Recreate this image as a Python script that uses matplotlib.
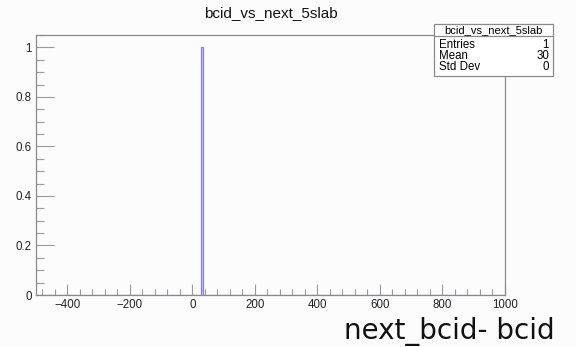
import numpy as np
import matplotlib
matplotlib.use("Agg")
import matplotlib.pyplot as plt
from matplotlib.ticker import MultipleLocator

title = "bcid_vs_next_5slab"
xlabel = "next_bcid- bcid"
values = [30]
weights = [1]
x_range = (-500, 1000)
n_bins = 250
stats_labels = ["Entries", "Mean", "Std Dev"]
stats_values = ["1", "30", "0"]

W, H = 576, 347
fig = plt.figure(figsize=(W / 100, H / 100), dpi=100)
fig.patch.set_facecolor("#fcfcfc")
ax = fig.add_axes([36 / W, (H - 295) / H, (505 - 36) / W, (295 - 35) / H])
ax.set_facecolor("#fcfcfc")

ax.hist(values, bins=n_bins, range=x_range, weights=weights,
        histtype="bar", facecolor="#c4c4f4", edgecolor="#8484ea", linewidth=0.9)

ax.set_xlim(*x_range)
ax.set_ylim(0, 1.05)
ax.xaxis.set_major_locator(MultipleLocator(200))
ax.xaxis.set_minor_locator(MultipleLocator(40))
ax.yaxis.set_major_locator(MultipleLocator(0.2))
ax.yaxis.set_minor_locator(MultipleLocator(0.05))

def yfmt(v, pos):
    return "0" if abs(v) < 1e-9 else ("1" if abs(v - 1) < 1e-9 else f"{v:.1f}")
ax.yaxis.set_major_formatter(plt.FuncFormatter(yfmt))

for s in ax.spines.values():
    s.set_color("#8a8a8a")
    s.set_linewidth(0.9)
ax.spines["top"].set_visible(False)

ax.tick_params(axis="both", which="major", direction="in", length=13, width=0.8,
               color="#9a9a9a", labelsize=8.3, labelcolor="#222222")
ax.tick_params(axis="both", which="minor", direction="in", length=6, width=0.8,
               color="#9a9a9a")
ax.tick_params(axis="x", which="major", length=8, pad=3)
ax.tick_params(axis="x", which="minor", length=4)
ax.tick_params(axis="y", pad=3)
ax.tick_params(top=False, right=False, which="both")
for lab in ax.get_xticklabels() + ax.get_yticklabels():
    lab.set_family("Liberation Sans")

ax.plot([0, 1], [1, 1], transform=ax.transAxes, color="#8a8a8a", lw=0.9, clip_on=False)

fig.text(271 / W, 1 - 13 / H, title, ha="center", va="center", fontsize=11,
         family="Liberation Sans", color="#111111")

fig.text(555 / W, 1 - 331 / H, xlabel, ha="right", va="center", fontsize=20,
         family="DejaVu Sans", color="#111111")

bx0, bx1, by0, by1 = 434, 553, 24, 76
box = plt.Rectangle((bx0 / W, 1 - by1 / H), (bx1 - bx0) / W, (by1 - by0) / H,
                    transform=fig.transFigure, facecolor="white", edgecolor="#8a8a8a",
                    lw=0.9, zorder=5)
fig.add_artist(box)
fig.add_artist(plt.Line2D([bx0 / W, bx1 / W], [1 - 36 / H, 1 - 36 / H],
                          transform=fig.transFigure, color="#8a8a8a", lw=0.9, zorder=6))
fig.text((bx0 + bx1) / 2 / W, 1 - 30 / H, title, ha="center", va="center",
         fontsize=8, family="Liberation Sans", zorder=7)
for i, (lab, val) in enumerate(zip(stats_labels, stats_values)):
    y = 1 - (44.5 + i * 11.5) / H
    fig.text((bx0 + 5) / W, y, lab, ha="left", va="center", fontsize=8.3,
             family="Liberation Sans", zorder=7)
    fig.text((bx1 - 4) / W, y, val, ha="right", va="center", fontsize=8.3,
             family="Liberation Sans", zorder=7)

fig.savefig("out.png", dpi=100, facecolor=fig.get_facecolor())
